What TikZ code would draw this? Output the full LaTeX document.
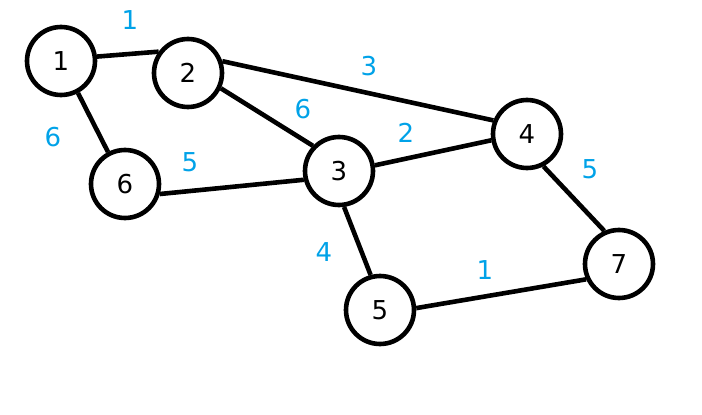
\documentclass[tikz,border=0pt]{standalone}
\usepackage{fontspec}
\setmainfont{DejaVu Sans}
\usetikzlibrary{positioning}
\definecolor{wblue}{RGB}{0,162,232}

\begin{document}
\begin{tikzpicture}[
    x=1pt, y=-1pt,
    vertex/.style = {circle, draw=black, line width=4.6pt, minimum size=68pt, inner sep=0pt, font=\fontsize{26}{26}\selectfont},
    edge/.style   = {line width=4.6pt},
    weight/.style = {text=wblue, font=\fontsize{26}{26}\selectfont}
]
    \useasboundingbox (0,0) rectangle (702,415);

    % --- Knoten ---
    \node (n1) [vertex] at (61,61)   {1};
    \node (n2) [vertex] at (188,73)  {2};
    \node (n6) [vertex] at (125,184) {6};
    \node (n3) [vertex] at (339,171) {3};
    \node (n4) [vertex] at (527,134) {4};
    \node (n5) [vertex] at (380,310) {5};
    \node (n7) [vertex] at (619,264) {7};

    % --- Kanten ---
    \draw [edge] (n1.7)    -- (n2.144);
    \draw [edge] (n1.-62)  -- (n6.118);
    \draw [edge] (n2.19)   -- (n4.158);
    \draw [edge] (n2.-25)  -- (n3.136);
    \draw [edge] (n6.-16)  -- (n3.-166);
    \draw [edge] (n3.9)    -- (n4.-170);
    \draw [edge] (n3.-82)  -- (n5.105);
    \draw [edge] (n4.-63)  -- (n7.114);
    \draw [edge] (n5.3)    -- (n7.205);

    % --- Gewichte ---
    \node (w12) [weight] at (130,20)  {1};
    \node (w16) [weight] at (53,137)  {6};
    \node (w24) [weight] at (369,66)  {3};
    \node (w23) [weight] at (303,109) {6};
    \node (w63) [weight] at (190,162) {5};
    \node (w34) [weight] at (406,133) {2};
    \node (w47) [weight] at (590,169) {5};
    \node (w35) [weight] at (324,252) {4};
    \node (w57) [weight] at (485,270) {1};

\end{tikzpicture}
\end{document}
